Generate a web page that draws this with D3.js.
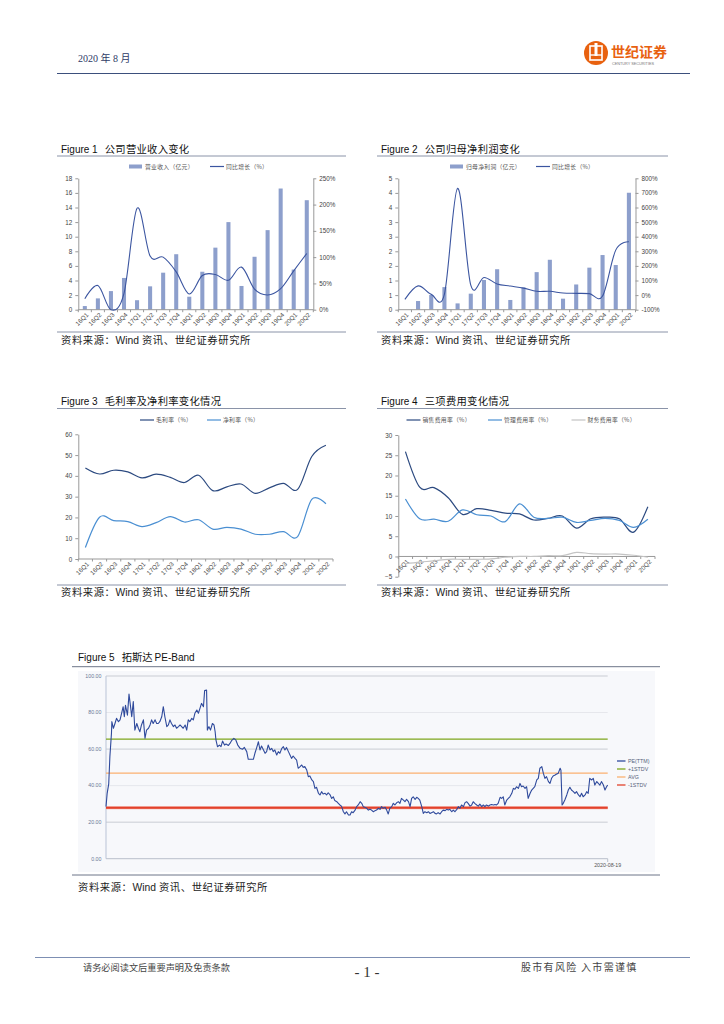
<!DOCTYPE html>
<html><head><meta charset="utf-8">
<script src="https://cdn.jsdelivr.net/npm/d3@7"></script>
<style>
html,body{margin:0;padding:0;background:#fff;}
svg{display:block;}
</style></head><body>
<svg id="page" width="724" height="1024"></svg>
<script>
// ---------------- DATA ----------------
const quarters = ["16Q1","16Q2","16Q3","16Q4","17Q1","17Q2","17Q3","17Q4","18Q1","18Q2","18Q3","18Q4","19Q1","19Q2","19Q3","19Q4","20Q1","20Q2"];
const revenue      = [0.5,1.55,2.55,4.35,1.3,3.2,5.07,7.6,1.78,5.2,8.5,12.0,3.25,7.25,10.9,16.6,5.5,15.0];
const revenueYoY   = [21,46,0,31,193,102,100,72,30,65,67,56,81,39,28,40,74,107];
const netProfit    = [0,0.33,0.56,0.86,0.24,0.61,1.13,1.54,0.37,0.85,1.43,1.9,0.42,0.96,1.6,2.08,1.7,4.45];
const netProfitYoY = [-29,63,5,7,731,68,121,76,62,48,26,26,14,12,10,-6,308,365];
const grossMargin  = [43.8,40.9,42.7,41.9,39.0,40.8,39.3,36.8,40.3,32.9,34.7,36.1,31.6,34.2,36.4,33.5,49.3,54.7];
const netMargin    = [5.5,20.1,18.5,18.0,15.6,17.5,20.4,17.8,18.9,14.4,15.2,14.4,11.9,11.9,13.2,10.8,28.7,26.6];
const salesExpRate = [25.9,17.1,17.0,14.5,10.4,11.8,11.4,10.7,10.5,9.0,9.4,10.0,7.0,9.3,9.7,9.3,6.0,12.3];
const adminExpRate = [14.2,9.3,9.2,8.7,11.5,10.3,10.0,8.6,13.0,9.7,9.4,9.7,8.4,8.9,9.4,8.9,7.2,9.2];
const finExpRate   = [-1.8,-1.4,-1.1,-0.7,-0.7,-0.7,-0.6,-0.2,0,0,0.2,0.2,1.0,0.7,0.6,0.6,0.3,-0.2];

const fig1LeftTicks  = [0,2,4,6,8,10,12,14,16,18];
const fig1RightTicks = [0,50,100,150,200,250];
const fig2LeftTickLabels = ["0","1","1","2","2","3","3","4","4","5"];
const fig2RightTicks = [-100,0,100,200,300,400,500,600,700,800];
const fig3Ticks = [0,10,20,30,40,50,60];
const fig4Ticks = [-5,0,5,10,15,20,25,30];

// PE(TTM): [days since 2017-02-09, PE]
const peStart = [2017,1,9];
const peEnd = [2020,7,19];
const pePoints = [
[0,28.5],[3,35.8],[7,41],[10,56],[14,68.6],[15,75],[19,71.4],[23,74],[27,76.8],[32,75],[36,76],[40,79.6],[44,83.2],[47,77.7],[50,84],[55,78.6],[59,90.1],[62,85],[66,77.7],[70,86],[74,70.4],[79,74],[83,71.4],[87,69.5],[91,73.2],[96,76],[100,65.9],[104,70.4],[109,71.4],[113,73.2],[117,76],[121,74],[126,76],[130,74],[134,74],[138,75],[143,77.7],[147,83.2],[151,77.7],[156,72.3],[160,73.2],[164,76],[168,74],[173,72.3],[177,73.2],[181,71.4],[186,72.3],[190,73.2],[194,72.3],[198,71.4],[203,73.2],[207,70.4],[211,76],[215,75],[220,76.8],[224,76],[228,79.6],[233,81.4],[237,79.6],[241,82.3],[245,85],[250,83.2],[253,92],[258,92.3],[260,70.4],[264,72.3],[268,70.4],[273,74],[277,73.2],[280,69.5],[282,65],[286,61.3],[291,62.2],[295,61.3],[299,64.4],[304,62.2],[308,62.8],[314,62],[318,63.1],
[322,64.6],[328,65.9],[333,65],[338,62.2],[344,60.4],[350,59.9],[355,60.9],[361,58.6],[365,54.4],[372,54.4],[378,54.4],[382,57.7],[386,60.4],[391,64],[395,59.5],[399,61.7],[404,59.5],[408,57.7],[412,58.6],[416,62.2],[421,59.5],[425,60.4],[429,58.6],[433,59.5],[438,56.8],[442,58.6],[446,57.7],[451,60.4],[455,61.3],[459,59.5],[463,60.9],[468,58.6],[472,56.8],[476,54.9],[480,56.2],[485,54.9],[489,54],[493,49.5],[498,50.4],[502,51.3],[506,50],[510,50.4],[515,48.5],[519,44.9],[523,45.3],[528,43.1],[532,42.2],[536,38.5],[540,39.1],[545,35.8],[549,34.9],[553,36.7],[557,35.4],[562,35.8],[566,34.9],[570,36.1],[575,34.9],[579,33],[583,33.9],[587,31.8],[592,31.2],[596,30.3],[600,29.4],[604,28.8],[609,25.7],[613,24.5],[617,25.7],[622,23.9],
[626,23.9],[630,25.7],[634,25.2],[639,26.6],[643,28.5],[647,29.4],[652,31.2],[656,30.3],[660,28.5],[664,28.1],[669,27.6],[673,26.6],[677,27],[681,26.6],[686,25.7],[690,26.3],[694,26.6],[699,27.6],[703,27],[707,28.5],[711,27.6],[716,28.1],[720,26.6],[724,24.5],[728,27.6],[733,28.5],[737,30.3],[741,29.4],[746,30.7],[750,31.2],[754,30.3],[758,33],[763,32.1],[767,31.2],[771,32.5],[776,31.2],[780,28.5],[784,33],[788,33.9],[793,32.5],[797,33.6],[801,33],[805,32.1],[810,28.5],[814,24.8],[818,25.7],[823,25.2],[827,25.7],[831,24.8],[835,25.2],[840,25.7],[844,24.8],[848,24.5],[852,25.2],[857,24.5],[861,25.7],[865,26.6],[870,26.3],[874,27],[878,26.6],[882,27],[887,25.7],[891,26.6],[895,25.7],[900,27],[904,28.5],[908,27.6],[912,29.4],[917,28.5],[921,30.7],[925,31.2],[929,30.3],[934,28.8],[938,29.4],[942,31.2],
[946,30.3],[951,29.4],[955,28.8],[959,29.9],[964,28.5],[968,29.4],[972,28.5],[976,29.4],[981,28.8],[985,29.4],[989,29.7],[994,29.4],[998,29.7],[1002,29.4],[1006,30.3],[1011,33.6],[1015,33],[1019,33.9],[1023,29.4],[1028,32.1],[1032,33],[1036,33.9],[1041,35.8],[1045,38.5],[1049,38],[1053,39.4],[1058,38.5],[1062,41.2],[1066,39.4],[1070,39.8],[1075,38.5],[1079,39.4],[1083,33],[1088,35.8],[1092,37.6],[1096,38.5],[1100,39.4],[1105,43.1],[1109,44],[1113,49.5],[1118,50.4],[1122,46.7],[1126,44],[1130,44.9],[1135,42.2],[1139,41.2],[1143,44],[1147,45.3],[1152,45.8],[1156,46.4],[1160,46.7],[1165,49.5],[1167,48.5],[1170,29.4],[1173,30.3],[1177,32.1],[1182,34.9],[1186,37.6],[1190,39.1],[1194,37.6],[1199,36.7],[1203,35.8],[1207,36.7],[1212,34.9],[1216,33.9],[1220,35.8],[1224,33.9],[1229,34.9],[1233,36.7],[1237,35.8],[1241,44],[1246,43.1],[1250,44],[1254,40.3],[1259,42.2],[1263,41.2],[1267,40.3],[1271,42.2],[1276,40.3],[1280,37.6],[1284,39.4],[1287,40.3]
];
const peBandLevels = [65.4, 46.8, 27.9];
const peBandNames  = ["+1STDV","AVG","-1STDV"];
const peTicks = [0,20,40,60,80,100];
const peEndLabel = "2020-08-19";

// ---------------- STYLE ----------------
const CJK = "'Noto Sans CJK SC','Liberation Sans',sans-serif";
const LAT = "'Liberation Sans',Arial,sans-serif";
const page = d3.select("#page");
const frameColor = "#8a93a8";

// header
page.append("text").attr("x",78).attr("y",62).attr("font-family","'Liberation Serif','Noto Sans CJK SC',serif")
  .attr("font-size",10).attr("fill","#2e3b66").text("2020 年 8 月");
const logo = page.append("g");
logo.append("circle").attr("cx",596).attr("cy",53).attr("r",12).attr("fill","#e8610f");
logo.append("rect").attr("x",590).attr("y",46).attr("width",12).attr("height",14).attr("fill","none").attr("stroke","#fff").attr("stroke-width",1.6);
logo.append("rect").attr("x",594.5).attr("y",43).attr("width",3).attr("height",13).attr("fill","#fff");
logo.append("line").attr("x1",590).attr("x2",602).attr("y1",55).attr("y2",55).attr("stroke","#fff").attr("stroke-width",1.4);
logo.append("text").attr("x",611).attr("y",57).attr("font-family",CJK).attr("font-weight","bold").attr("font-size",14)
  .attr("fill","#e8610f").text("世纪证券");
logo.append("text").attr("x",612).attr("y",64.5).attr("font-family",LAT).attr("font-size",3.8)
  .attr("fill","#777").text("CENTURY SECURITIES");
page.append("line").attr("x1",57).attr("x2",690).attr("y1",73.5).attr("y2",73.5).attr("stroke","#3b4f7c").attr("stroke-width",1);

// footer
page.append("line").attr("x1",35).attr("x2",690).attr("y1",957.5).attr("y2",957.5).attr("stroke","#7d8fb3").attr("stroke-width",1);
page.append("text").attr("x",83).attr("y",971).attr("font-family",CJK).attr("font-size",9.2).attr("fill","#444").text("请务必阅读文后重要声明及免责条款");
page.append("text").attr("x",367).attr("y",977).attr("text-anchor","middle").attr("font-family","'Liberation Serif',serif").attr("font-size",15).attr("fill","#333").text("- 1 -");
page.append("text").attr("x",521).attr("y",971).attr("font-family",CJK).attr("font-size",10).attr("letter-spacing",1.3).attr("fill","#444").text("股市有风险 入市需谨慎");

function sourceLine(x, y) {
  const s = page.append("text").attr("x",x).attr("y",y).attr("font-size",10.3).attr("fill","#222");
  s.append("tspan").attr("font-family",CJK).attr("letter-spacing",0.6).text("资料来源：");
  s.append("tspan").attr("font-family",LAT).text("Wind");
  s.append("tspan").attr("font-family",CJK).attr("dx",3).attr("letter-spacing",0.6).text("资讯、世纪证券研究所");
}

function frame(x0, x1, titleY, lineTop, lineBot, sourceY, num, title) {
  const t = page.append("text").attr("x",x0+4).attr("y",titleY).attr("font-size",10).attr("fill","#111");
  t.append("tspan").attr("font-family",LAT).text("Figure " + num);
  t.append("tspan").attr("font-family",CJK).attr("dx",7).attr("font-size",10.3).attr("letter-spacing",0.3).text(title);
  page.append("line").attr("x1",x0).attr("x2",x1).attr("y1",lineTop).attr("y2",lineTop).attr("stroke",frameColor);
  page.append("line").attr("x1",x0).attr("x2",x1).attr("y1",lineBot).attr("y2",lineBot).attr("stroke",frameColor);
  sourceLine(x0+4, sourceY);
}

function styleAxis(g) {
  g.selectAll("path.domain").attr("stroke","#999");
  g.selectAll(".tick line").attr("stroke","#999");
  g.selectAll("text").attr("font-family",LAT).attr("font-size",6.3).attr("fill","#444");
}

function categoryAxis(g, x, y0, xStart, xEnd) {
  g.append("line").attr("x1",xStart).attr("x2",xEnd).attr("y1",y0).attr("y2",y0).attr("stroke","#999");
  const step = x.step();
  quarters.forEach((q,i) => {
    const bx = xStart + i*step;
    g.append("line").attr("x1",bx).attr("x2",bx).attr("y1",y0).attr("y2",y0+2.5).attr("stroke","#999");
  });
  g.append("line").attr("x1",xEnd).attr("x2",xEnd).attr("y1",y0).attr("y2",y0+2.5).attr("stroke","#999");
  g.selectAll("text.xl").data(quarters).enter().append("text")
    .attr("transform", q => `translate(${x(q)+x.bandwidth()/2+2.5},${y0+4}) rotate(-45)`)
    .attr("text-anchor","end").attr("dy","0.35em")
    .attr("font-family",LAT).attr("font-size",6.3).attr("fill","#444").text(q => q);
}

function legendItem(g, x, y, type, color, label) {
  if (type === "bar") g.append("rect").attr("x",x).attr("y",y-2).attr("width",13).attr("height",4).attr("fill",color);
  else g.append("line").attr("x1",x).attr("x2",x+14).attr("y1",y).attr("y2",y).attr("stroke",color).attr("stroke-width",1.2);
  g.append("text").attr("x",x+16).attr("y",y).attr("dy","0.35em").attr("font-family",CJK).attr("font-size",5.8)
    .attr("letter-spacing",0.3).attr("fill","#555").text(label);
}

const smooth = d3.curveCardinal.tension(0);

// ---------- combo bar+line ----------
function combo(cfg) {
  const g = page.append("g");
  const x = d3.scaleBand().domain(quarters).range([cfg.x0, cfg.x1]).paddingInner(0.69).paddingOuter(0.345);
  const yL = d3.scaleLinear().domain(cfg.leftDomain).range([cfg.yBot, cfg.yTop]);
  const yR = d3.scaleLinear().domain(cfg.rightDomain).range([cfg.yBot, cfg.yTop]);
  g.selectAll("rect.bar").data(cfg.bars).enter().append("rect")
    .attr("x",(d,i)=>x(quarters[i])).attr("width",x.bandwidth())
    .attr("y",d=>yL(d)).attr("height",d=>cfg.yBot-yL(d)).attr("fill","#8d9fcc");
  const la = g.append("g").attr("transform",`translate(${cfg.x0},0)`)
    .call(d3.axisLeft(yL).tickValues(cfg.leftTicks).tickFormat(cfg.leftFmt).tickSize(3).tickSizeOuter(0));
  styleAxis(la);
  const ra = g.append("g").attr("transform",`translate(${cfg.x1},0)`)
    .call(d3.axisRight(yR).tickValues(cfg.rightTicks).tickFormat(d=>d+"%").tickSize(3).tickSizeOuter(0));
  styleAxis(ra);
  categoryAxis(g, x, cfg.yBot, cfg.x0, cfg.x1);
  const line = d3.line().x((d,i)=>x(quarters[i])+x.bandwidth()/2).y(d=>yR(d)).curve(smooth);
  g.append("path").datum(cfg.line).attr("d",line).attr("fill","none").attr("stroke","#3b55a0").attr("stroke-width",1.1);
  legendItem(g, cfg.legX1, cfg.legY, "bar", "#8d9fcc", cfg.legText1);
  legendItem(g, cfg.legX2, cfg.legY, "line", "#3b55a0", cfg.legText2);
}

frame(57, 346, 152.5, 156, 332, 343.5, 1, "公司营业收入变化");
combo({x0:78.3, x1:313.3, yTop:178.3, yBot:309.7, leftDomain:[0,18], leftTicks:fig1LeftTicks, leftFmt:d=>d,
  rightDomain:[0,250], rightTicks:fig1RightTicks, bars:revenue, line:revenueYoY,
  legX1:129, legX2:210, legY:166.5, legText1:"营业收入（亿元）", legText2:"同比增长（%）"});

frame(377, 668, 152.5, 156, 332, 343.5, 2, "公司归母净利润变化");
combo({x0:398.3, x1:635.5, yTop:178.3, yBot:309.7, leftDomain:[0,5],
  leftTicks:fig2LeftTickLabels.map((l,i)=>i*5/(fig2LeftTickLabels.length-1)), leftFmt:(d,i)=>fig2LeftTickLabels[i],
  rightDomain:[-100,800], rightTicks:fig2RightTicks, bars:netProfit, line:netProfitYoY,
  legX1:450, legX2:536, legY:166.5, legText1:"归母净利润（亿元）", legText2:"同比增长（%）"});

// ---------- multi-line charts ----------
function lines(cfg) {
  const g = page.append("g");
  const x = d3.scaleBand().domain(quarters).range([cfg.x0, cfg.x1]).paddingInner(0.69).paddingOuter(0.345);
  const y = d3.scaleLinear().domain(cfg.domain).range([cfg.yBot, cfg.yTop]);
  const la = g.append("g").attr("transform",`translate(${cfg.x0},0)`)
    .call(d3.axisLeft(y).tickValues(cfg.ticks).tickSize(3).tickSizeOuter(0));
  styleAxis(la);
  categoryAxis(g, x, y(0), cfg.x0, cfg.x1);
  const line = d3.line().x((d,i)=>x(quarters[i])+x.bandwidth()/2).y(d=>y(d)).curve(smooth);
  cfg.series.forEach(s => {
    g.append("path").datum(s.values).attr("d",line).attr("fill","none").attr("stroke",s.color).attr("stroke-width",1.2);
    legendItem(g, s.legX, cfg.legY, "line", s.color, s.name);
  });
}

frame(57, 346, 405, 408.5, 585, 596, 3, "毛利率及净利率变化情况");
lines({x0:78.3, x1:333, yTop:434.3, yBot:559, domain:[0,60], ticks:fig3Ticks, legY:420,
  series:[{values:grossMargin, color:"#2c4a80", name:"毛利率（%）", legX:140},
          {values:netMargin, color:"#4a8fd2", name:"净利率（%）", legX:207}]});

frame(377, 668, 405, 408.5, 585, 596, 4, "三项费用变化情况");
lines({x0:398.3, x1:655, yTop:435, yBot:576.7, domain:[-5,30], ticks:fig4Ticks, legY:420,
  series:[{values:salesExpRate, color:"#2c4a80", name:"销售费用率（%）", legX:406.5},
          {values:adminExpRate, color:"#4a8fd2", name:"管理费用率（%）", legX:488},
          {values:finExpRate, color:"#c4c4c4", name:"财务费用率（%）", legX:571.5}]});

// ---------- PE band ----------
(function(){
  const t = page.append("text").attr("x",78).attr("y",661).attr("font-size",10).attr("fill","#111");
  t.append("tspan").attr("font-family",LAT).text("Figure 5");
  t.append("tspan").attr("font-family",CJK).attr("dx",7).attr("font-size",10.3).text("拓斯达");
  t.append("tspan").attr("font-family",LAT).attr("dx",2).text("PE-Band");
  page.append("line").attr("x1",72).attr("x2",660).attr("y1",666.7).attr("y2",666.7).attr("stroke","#6d7588");
  page.append("line").attr("x1",72).attr("x2",660).attr("y1",875).attr("y2",875).attr("stroke","#6d7588");
  sourceLine(78, 891);

  page.append("rect").attr("x",78).attr("y",671).attr("width",577).attr("height",201).attr("fill","#f7f8fb");
  const start = new Date(peStart[0],peStart[1],peStart[2]);
  const end = new Date(peEnd[0],peEnd[1],peEnd[2]);
  const x = d3.scaleTime().domain([start,end]).range([106,607.7]);
  const y = d3.scaleLinear().domain([0,100]).range([858.7,676]);
  const g = page.append("g");
  peTicks.forEach(v => {
    g.append("line").attr("x1",106).attr("x2",607.7).attr("y1",y(v)).attr("y2",y(v))
      .attr("stroke", v===0 ? "#b9bfca" : ((v/20)%2===1 ? "#c9ccd3" : "#e6e7ec")).attr("stroke-width",1);
    g.append("text").attr("x",101.5).attr("y",y(v)).attr("dy","0.35em").attr("text-anchor","end")
      .attr("font-family",LAT).attr("font-size",5.3).attr("fill","#6b7897").text(v.toFixed(2));
  });
  g.append("line").attr("x1",106).attr("x2",106).attr("y1",676).attr("y2",858.7).attr("stroke","#b9c3d6");
  g.append("line").attr("x1",607.7).attr("x2",607.7).attr("y1",858.7).attr("y2",862).attr("stroke","#b9bfca");
  g.append("text").attr("x",607.7).attr("y",866.5).attr("text-anchor","middle").attr("font-family",LAT)
    .attr("font-size",5.3).attr("fill","#555").text(peEndLabel);
  const bandColors = ["#7ea61c","#fbb070","#e2412b"];
  g.append("line").attr("x1",106).attr("x2",607.7).attr("y1",y(peBandLevels[2])).attr("y2",y(peBandLevels[2]))
    .attr("stroke","#f3a79c").attr("stroke-width",3.2);
  peBandLevels.forEach((v,i) => {
    g.append("line").attr("x1",106).attr("x2",607.7).attr("y1",y(v)).attr("y2",y(v))
      .attr("stroke",bandColors[i]).attr("stroke-width", i===2 ? 1.8 : 1.3);
  });
  const line = d3.line().x(d=>x(d3.timeDay.offset(start,d[0]))).y(d=>y(d[1]));
  g.append("path").datum(pePoints).attr("d",line).attr("fill","none").attr("stroke","#2f4a9c").attr("stroke-width",1.1).attr("stroke-linejoin","round");
  const legNames = ["PE(TTM)"].concat(peBandNames);
  const legColors = ["#2f4a9c"].concat(bandColors);
  legNames.forEach((n,i) => {
    const ly = 761 + i*8;
    g.append("line").attr("x1",617).attr("x2",625.5).attr("y1",ly).attr("y2",ly).attr("stroke",legColors[i]).attr("stroke-width",1.3);
    g.append("text").attr("x",628).attr("y",ly).attr("dy","0.35em").attr("font-family",LAT).attr("font-size",5.3).attr("fill","#55627a").text(n);
  });
})();
</script>
</body></html>
